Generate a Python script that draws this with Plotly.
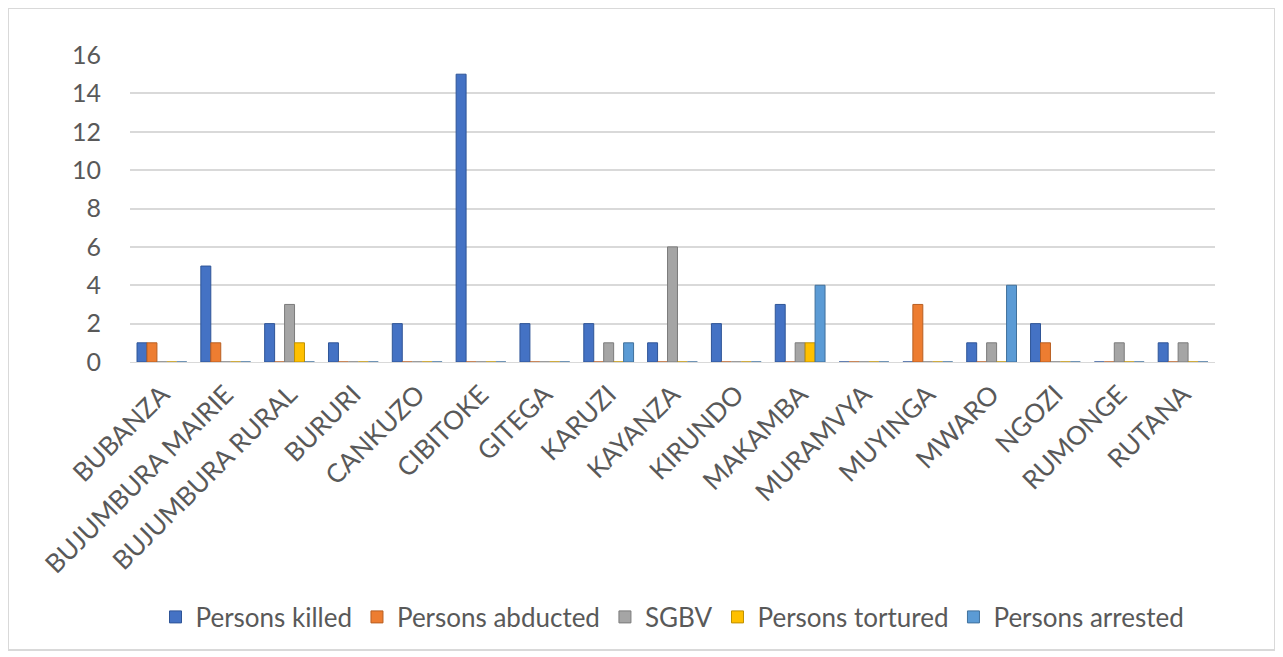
import plotly.graph_objects as go

provinces = ["BUBANZA", "BUJUMBURA MAIRIE", "BUJUMBURA RURAL", "BURURI", "CANKUZO",
             "CIBITOKE", "GITEGA", "KARUZI", "KAYANZA", "KIRUNDO", "MAKAMBA",
             "MURAMVYA", "MUYINGA", "MWARO", "NGOZI", "RUMONGE", "RUTANA"]
persons_killed = [1, 5, 2, 1, 2, 15, 2, 2, 1, 2, 3, 0, 0, 1, 2, 0, 1]
persons_abducted = [1, 1, 0, 0, 0, 0, 0, 0, 0, 0, 0, 0, 3, 0, 1, 0, 0]
sgbv = [0, 0, 3, 0, 0, 0, 0, 1, 6, 0, 1, 0, 0, 1, 0, 1, 1]
persons_tortured = [0, 0, 1, 0, 0, 0, 0, 0, 0, 0, 1, 0, 0, 0, 0, 0, 0]
persons_arrested = [0, 0, 0, 0, 0, 0, 0, 1, 0, 0, 4, 0, 0, 4, 0, 0, 0]
y_ticks = [0, 2, 4, 6, 8, 10, 12, 14, 16]

series = [
    ("Persons killed", persons_killed, "#4472C4", "#2F5597"),
    ("Persons abducted", persons_abducted, "#ED7D31", "#B85F22"),
    ("SGBV", sgbv, "#A5A5A5", "#7B7B7B"),
    ("Persons tortured", persons_tortured, "#FFC000", "#BF9000"),
    ("Persons arrested", persons_arrested, "#5B9BD5", "#41719C"),
]

fig = go.Figure()
for name, vals, col, edge in series:
    fig.add_trace(go.Bar(
        x=provinces, y=vals, name=name,
        marker=dict(color=col, line=dict(color=edge, width=1)),
    ))

# page has an 8px body margin; figure coords = screen coords - 8
OFF = 8
FW, FH = 1283 - OFF, 657 - OFF
L, R, T, B = 130 - OFF, 1215 - OFF, 55 - OFF, 362 - OFF
W, H = R - L, B - T

def px(x):
    return (x - OFF - L) / W

def py(y):
    return (B - (y - OFF)) / H

fig.update_layout(
    width=FW, height=FH,
    margin=dict(l=L, r=FW - R, t=T, b=FH - B, autoexpand=False),
    paper_bgcolor="white", plot_bgcolor="white",
    barmode="group", bargap=0.22, bargroupgap=0.0,
    font=dict(family="Lato, Noto Sans, sans-serif", color="#595959", size=24),
    showlegend=True,
    legend=dict(orientation="h", x=0.5, xanchor="center", y=py(617), yanchor="middle",
                font=dict(size=26, color="#595959"), itemwidth=30, traceorder="normal"),
    xaxis=dict(tickangle=-45, showgrid=False, zeroline=False, showline=True,
               linecolor="#D9D9D9", linewidth=1, tickfont=dict(size=26, color="#595959"),
               ticks="", ticklabelstandoff=6, automargin=False),
    yaxis=dict(range=[0, 16], tickvals=y_ticks, showgrid=True, gridcolor="#D9D9D9",
               gridwidth=2, zeroline=False, showline=False, ticks="",
               tickfont=dict(size=25, color="#595959"), ticklabelstandoff=28,
               automargin=False),
    shapes=[dict(type="rect", xref="paper", yref="paper",
                 x0=px(8), x1=px(1275), y0=py(650), y1=py(8),
                 line=dict(color="#D9D9D9", width=2), fillcolor="rgba(0,0,0,0)",
                 layer="below")],
)

fig.write_html("out.html")
